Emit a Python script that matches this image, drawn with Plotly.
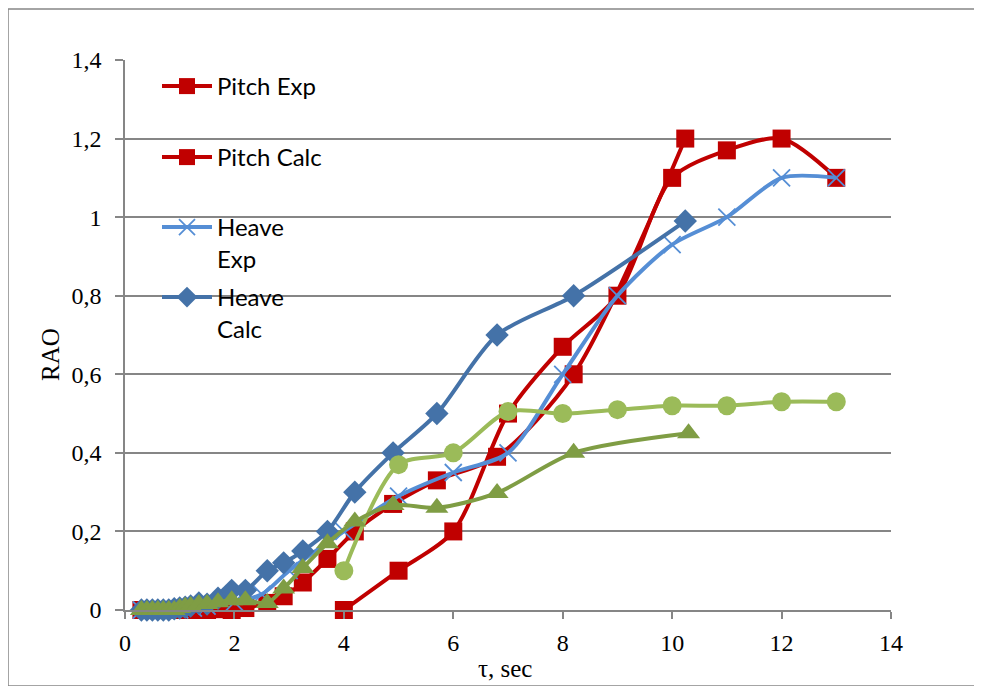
import plotly.graph_objects as go

# ---- data ----
pitch_exp_x = [4, 5, 6, 7, 8, 9, 10, 11, 12, 13]
pitch_exp_y = [0.0, 0.10, 0.20, 0.50, 0.67, 0.80, 1.10, 1.17, 1.20, 1.10]

calc_x = [0.3, 0.4, 0.5, 0.6, 0.7, 0.8, 0.9, 1.0, 1.1, 1.2, 1.35, 1.5, 1.7, 1.95, 2.2,
          2.6, 2.9, 3.25, 3.7, 4.2, 4.9, 5.7, 6.8, 8.2, 10.24]
pitch_calc_y = [0, 0, 0, 0, 0, 0, 0, 0, 0, 0, 0, 0, 0.002, 0.0, 0.005,
                0.018, 0.035, 0.07, 0.13, 0.20, 0.27, 0.33, 0.39, 0.60, 1.20]

heave_exp_x = [0.3, 0.5, 0.75, 1.0, 1.25, 1.5, 2.0, 2.5, 3.0, 4, 5, 6, 7, 8, 9, 10, 11, 12, 13]
heave_exp_y = [0, 0, 0, 0, 0.005, 0.01, 0.02, 0.04, 0.10, 0.20, 0.29, 0.35, 0.40, 0.60, 0.80,
               0.93, 1.00, 1.10, 1.10]

heave_calc_y = [0, 0, 0, 0, 0, 0, 0.003, 0.005, 0.007, 0.01, 0.018, 0.015, 0.03, 0.05, 0.05,
                0.10, 0.12, 0.15, 0.20, 0.30, 0.40, 0.50, 0.70, 0.80, 0.99]

circ_x = [4, 5, 6, 7, 8, 9, 10, 11, 12, 13]
circ_y = [0.10, 0.37, 0.40, 0.505, 0.50, 0.51, 0.52, 0.52, 0.53, 0.53]

tri_x = [0.3, 0.4, 0.5, 0.6, 0.7, 0.8, 0.9, 1.0, 1.1, 1.2, 1.35, 1.5, 1.7, 1.95, 2.2,
         2.6, 2.9, 3.25, 3.7, 4.2, 4.9, 5.7, 6.8, 8.2, 10.3]
tri_y = [0, 0, 0, 0, 0, 0, 0, 0.005, 0.008, 0.01, 0.015, 0.015, 0.02, 0.025, 0.025,
         0.018, 0.055, 0.107, 0.17, 0.225, 0.267, 0.26, 0.298, 0.40, 0.45]

y_ticks = [0, 0.2, 0.4, 0.6, 0.8, 1.0, 1.2, 1.4]
y_tick_text = ["0", "0,2", "0,4", "0,6", "0,8", "1", "1,2", "1,4"]
x_ticks = [0, 2, 4, 6, 8, 10, 12, 14]

RED = "#C00000"
LBLUE = "#558ED5"
DBLUE = "#4472A8"
LGREEN = "#9BBB59"
DGREEN = "#7F9D44"

fig = go.Figure()
line_shape = dict(shape="spline", smoothing=0.8)

fig.add_trace(go.Scatter(x=pitch_exp_x, y=pitch_exp_y, name="Pitch Exp", mode="lines+markers",
                         line=dict(color=RED, width=4, **line_shape),
                         marker=dict(symbol="square", size=18, color=RED), legend="legend"))
fig.add_trace(go.Scatter(x=calc_x, y=pitch_calc_y, name="Pitch Calc", mode="lines+markers",
                         line=dict(color=RED, width=4, **line_shape),
                         marker=dict(symbol="square", size=18, color=RED), legend="legend2"))
fig.add_trace(go.Scatter(x=heave_exp_x, y=heave_exp_y, name="Heave<br>Exp", mode="lines+markers",
                         line=dict(color=LBLUE, width=4, **line_shape),
                         marker=dict(symbol="x-thin", size=17, color=LBLUE,
                                     line=dict(color=LBLUE, width=1.8)), legend="legend3"))
fig.add_trace(go.Scatter(x=calc_x, y=heave_calc_y, name="Heave<br>Calc", mode="lines+markers",
                         line=dict(color=DBLUE, width=4, **line_shape),
                         marker=dict(symbol="diamond", size=18, color=DBLUE), legend="legend4"))
fig.add_trace(go.Scatter(x=circ_x, y=circ_y, name="", mode="lines+markers", showlegend=False,
                         line=dict(color=LGREEN, width=4, **line_shape),
                         marker=dict(symbol="circle", size=19, color=LGREEN)))
fig.add_trace(go.Scatter(x=tri_x, y=tri_y, name="", mode="lines+markers", showlegend=False,
                         line=dict(color=DGREEN, width=4, **line_shape),
                         marker=dict(symbol="triangle-up", size=20, color=DGREEN)))

for tr in fig.data:
    tr.cliponaxis = False

GRAY = "#868686"
OFF = 8  # page body margin
W, H = 974, 678
L, T = 125 - OFF, 60 - OFF
R = W - (891 - OFF)
B = H - (610 - OFF)
pw, ph = W - L - R, H - T - B


def px2paper(px, py):
    # window pixel -> paper coords
    fx, fy = px - OFF, py - OFF
    return (fx - L) / pw, (H - B - fy) / ph


leg_font = dict(family="Lato, Noto Sans, sans-serif", size=24, color="black")
legend_common = dict(font=leg_font, bgcolor="rgba(0,0,0,0)", borderwidth=0,
                     xanchor="left", yanchor="top", itemwidth=50, valign="top",
                     tracegroupgap=0)
leg_pos = [(157, 64), (157, 135), (157, 205), (157, 275)]
legends = {}
for i, (lx, ly) in enumerate(leg_pos):
    xx, yy = px2paper(lx, ly)
    key = "legend" if i == 0 else f"legend{i+1}"
    legends[key] = dict(x=xx, y=yy, **legend_common)

bx0, by0 = px2paper(8, 9)
bx1, by1 = px2paper(980, 686)

ax_font = dict(family="Liberation Serif, Times New Roman, serif", size=24, color="black")
title_font = dict(family="Liberation Serif, Times New Roman, serif", size=25, color="black")

rx, ry = px2paper(50, 355)
tx, ty = px2paper(505, 668)

fig.update_layout(
    width=W, height=H,
    margin=dict(l=L, r=R, t=T, b=B, pad=0),
    paper_bgcolor="white", plot_bgcolor="white",
    xaxis=dict(range=[0, 14], tickvals=x_ticks, showgrid=False, zeroline=False,
               showline=True, linecolor=GRAY, linewidth=1.5, ticks="outside", ticklen=7,
               tickcolor=GRAY, tickwidth=1.5, tickfont=ax_font, ticklabelstandoff=3),
    yaxis=dict(range=[0, 1.4], tickvals=y_ticks, ticktext=y_tick_text, showgrid=True,
               gridcolor=GRAY, gridwidth=1.5, zeroline=False, showline=True, linecolor=GRAY,
               linewidth=1.5, ticks="outside", ticklen=8, tickcolor=GRAY, tickwidth=1.5,
               tickfont=ax_font, ticklabelstandoff=9),
    shapes=[dict(type="rect", xref="paper", yref="paper", x0=bx0, y0=by1, x1=bx1, y1=by0,
                 line=dict(color=GRAY, width=1.5), layer="below")],
    annotations=[
        dict(text="RAO", xref="paper", yref="paper", x=rx, y=ry, showarrow=False,
             textangle=-90, font=title_font, xanchor="center", yanchor="middle"),
        dict(text="τ, sec", xref="paper", yref="paper", x=tx, y=ty, showarrow=False,
             font=title_font, xanchor="center", yanchor="middle"),
    ],
    **legends,
)

fig.write_html("out.html")
